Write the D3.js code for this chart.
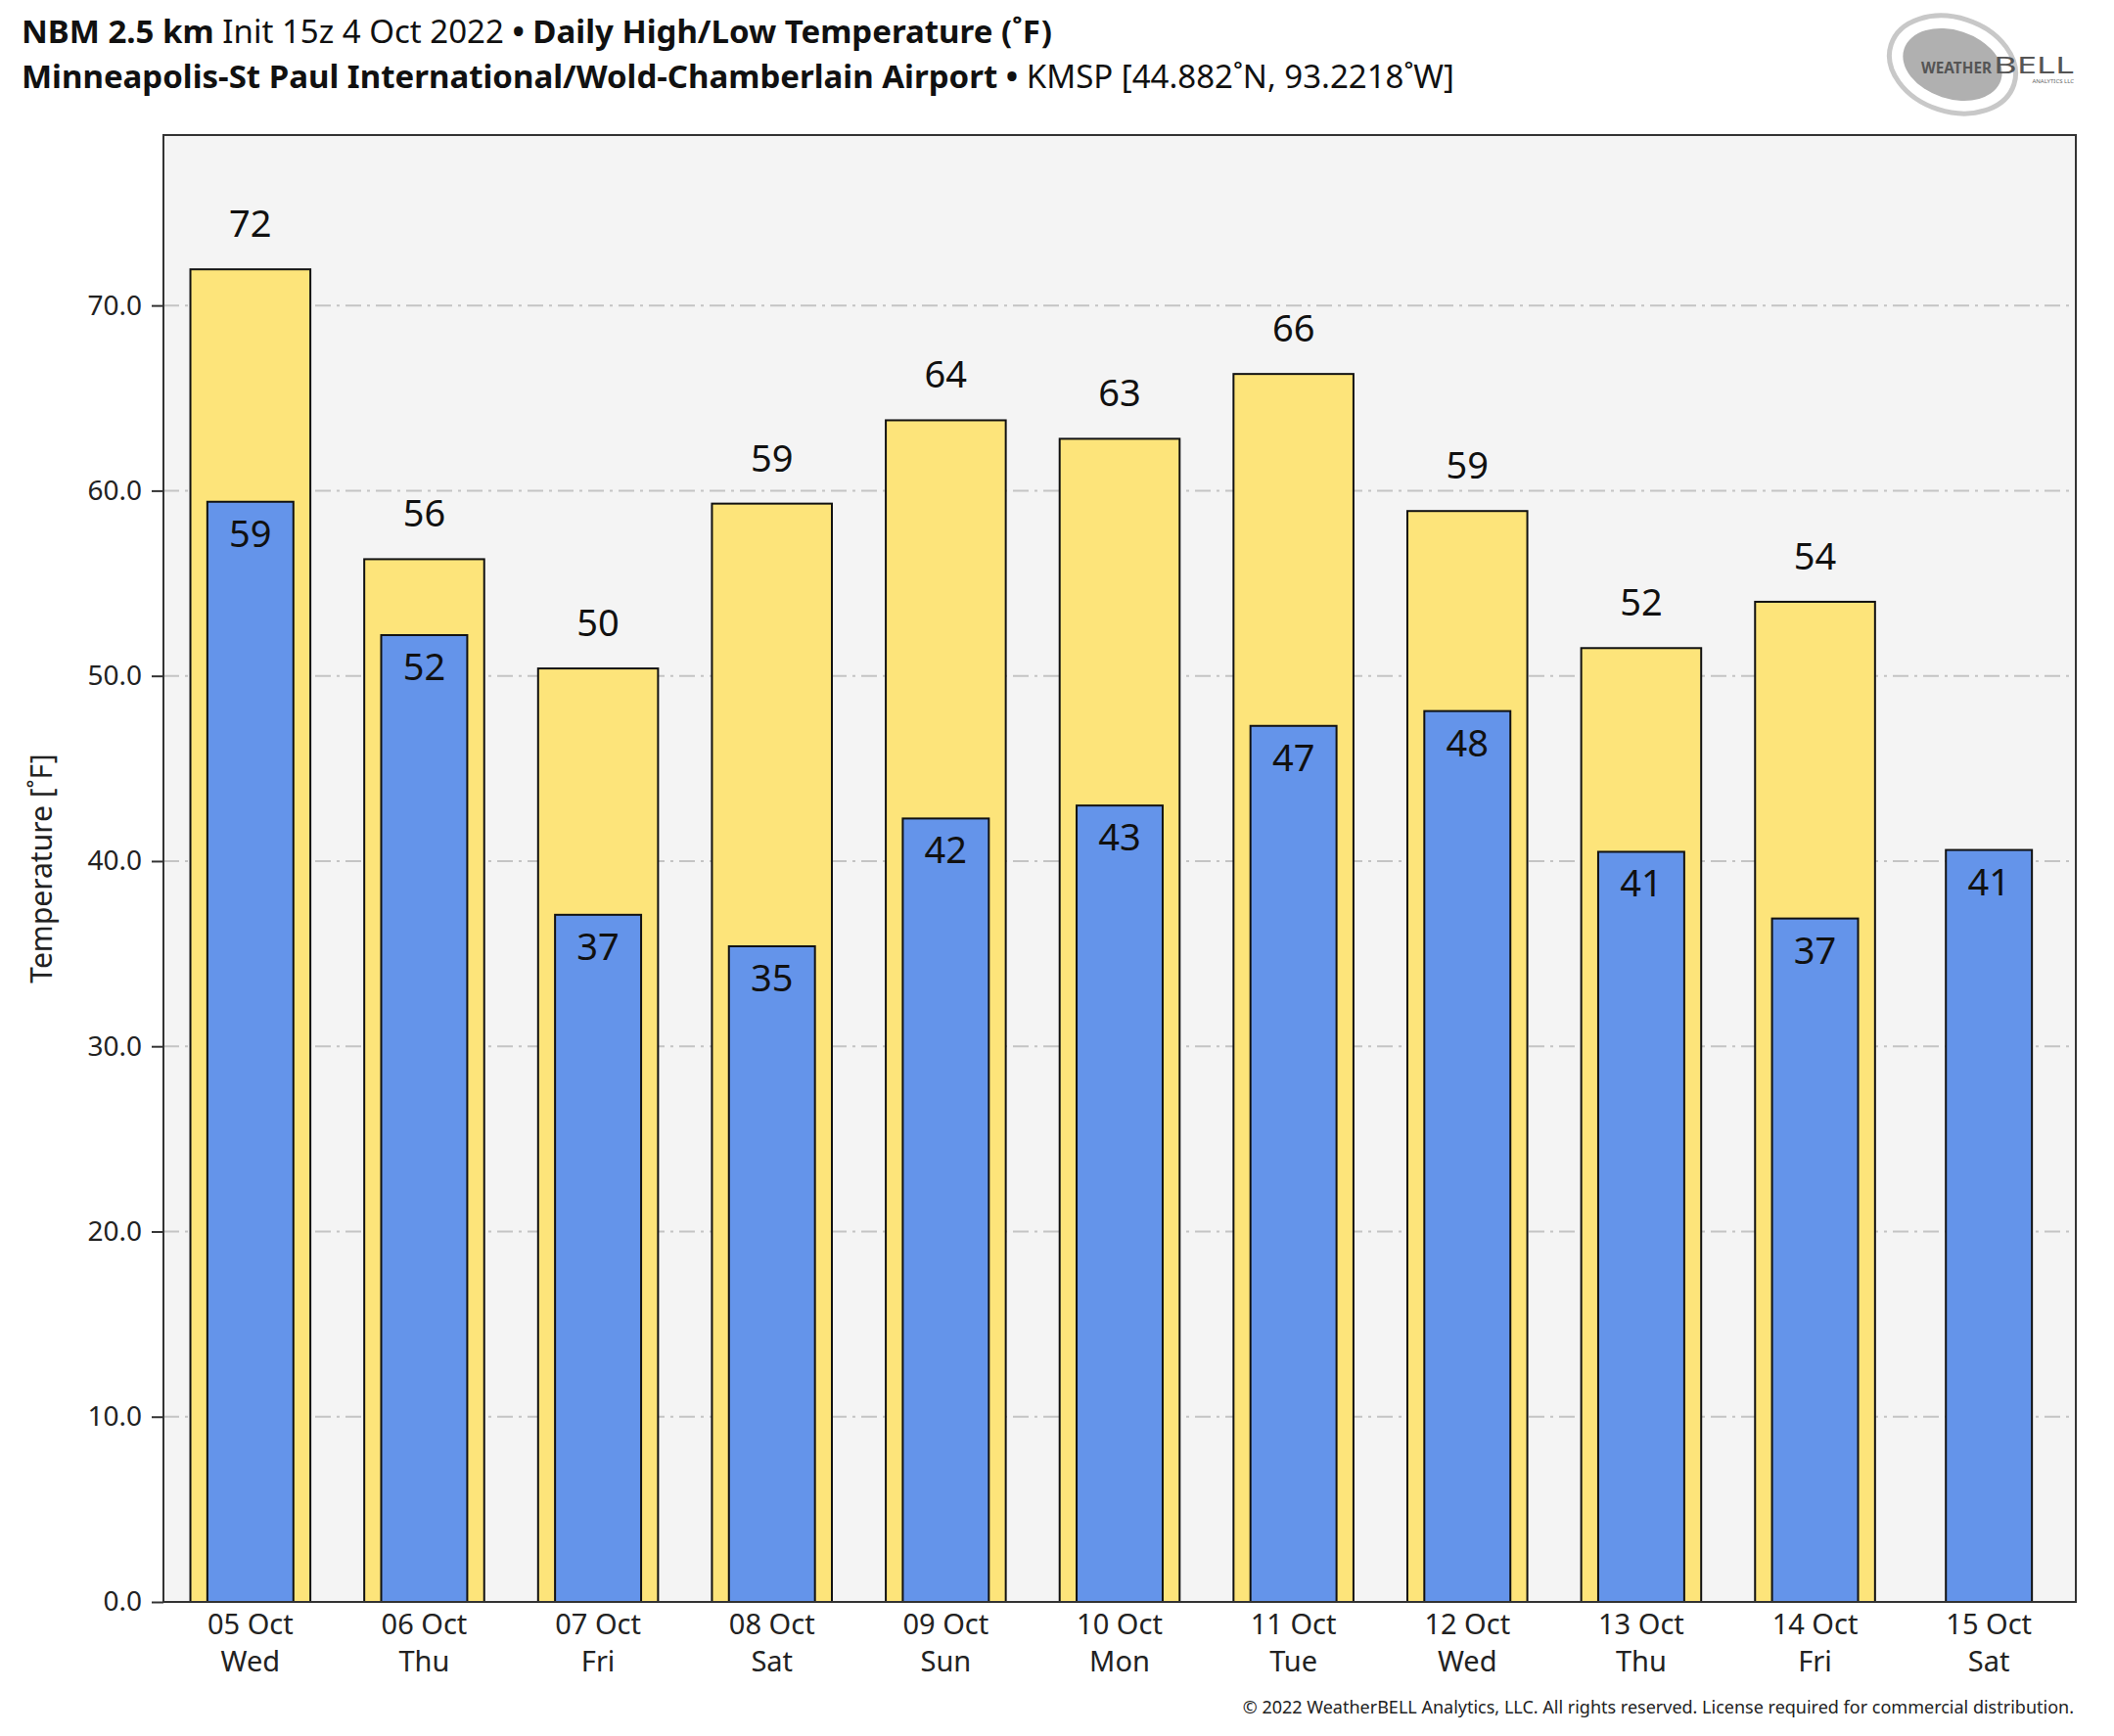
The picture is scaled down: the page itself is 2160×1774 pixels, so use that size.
<!DOCTYPE html>
<html>
<head>
<meta charset="utf-8">
<script src="https://cdn.jsdelivr.net/npm/d3@7"></script>
<style>
  body { margin: 0; background: #fff; }
  text { font-family: "Noto Sans", sans-serif; }
</style>
</head>
<body>
<svg id="canvas" width="2160" height="1774"></svg>
<script>
// days on the x axis
const dates = ["05 Oct", "06 Oct", "07 Oct", "08 Oct", "09 Oct", "10 Oct", "11 Oct", "12 Oct", "13 Oct", "14 Oct", "15 Oct"]
const weekdays = ["Wed", "Thu", "Fri", "Sat", "Sun", "Mon", "Tue", "Wed", "Thu", "Fri", "Sat"]
// daily high / low (F)
const highs = [71.95, 56.3, 50.4, 59.3, 63.8, 62.8, 66.3, 58.9, 51.5, 54.0, null]
const lows = [59.4, 52.2, 37.1, 35.4, 42.3, 43.0, 47.3, 48.1, 40.5, 36.9, 40.6]
const yTicks = [0, 10, 20, 30, 40, 50, 60, 70]

const svg = d3.select("#canvas")
const m = { left: 167, right: 2121, top: 138, bottom: 1637 }

const x = d3.scaleBand()
    .domain(d3.range(dates.length))
    .range([m.left, m.right])
    .padding(0)

const y = d3.scaleLinear()
    .domain([0, 79.2])
    .range([m.bottom, m.top])

// plot background
svg.append("rect")
    .attr("x", m.left).attr("y", m.top)
    .attr("width", m.right - m.left).attr("height", m.bottom - m.top)
    .attr("fill", "#f4f4f4")

// grid, dash-dot
svg.append("g")
    .selectAll("line")
    .data(yTicks.filter(d => d > 0))
    .enter()
    .append("line")
    .attr("x1", m.left).attr("x2", m.right)
    .attr("y1", d => y(d)).attr("y2", d => y(d))
    .attr("stroke", "#c4c4c4")
    .attr("stroke-width", 2)
    .attr("stroke-dasharray", "16,6,3,6")

const highW = x.bandwidth() * 0.69
const lowW = x.bandwidth() * 0.495

// high bars (yellow)
svg.append("g")
    .selectAll("rect")
    .data(highs.map((v, i) => ({ v, i })).filter(d => d.v !== null))
    .enter()
    .append("rect")
    .attr("x", d => x(d.i) + (x.bandwidth() - highW) / 2)
    .attr("y", d => y(d.v))
    .attr("width", highW)
    .attr("height", d => y(0) - y(d.v))
    .attr("fill", "#fde47a")
    .attr("stroke", "#111")
    .attr("stroke-width", 2)

// low bars (blue)
svg.append("g")
    .selectAll("rect")
    .data(lows.map((v, i) => ({ v, i })))
    .enter()
    .append("rect")
    .attr("x", d => x(d.i) + (x.bandwidth() - lowW) / 2)
    .attr("y", d => y(d.v))
    .attr("width", lowW)
    .attr("height", d => y(0) - y(d.v))
    .attr("fill", "#6494ea")
    .attr("stroke", "#111")
    .attr("stroke-width", 2)

// value labels
svg.append("g")
    .selectAll("text")
    .data(highs.map((v, i) => ({ v, i })).filter(d => d.v !== null))
    .enter()
    .append("text")
    .attr("x", d => x(d.i) + x.bandwidth() / 2)
    .attr("y", d => y(d.v) - 33)
    .attr("text-anchor", "middle")
    .attr("font-size", 38)
    .attr("fill", "#111")
    .text(d => Math.round(d.v))

svg.append("g")
    .selectAll("text")
    .data(lows.map((v, i) => ({ v, i })))
    .enter()
    .append("text")
    .attr("x", d => x(d.i) + x.bandwidth() / 2)
    .attr("y", d => y(d.v) + 46)
    .attr("text-anchor", "middle")
    .attr("font-size", 38)
    .attr("fill", "#111")
    .text(d => Math.round(d.v))

// plot frame
svg.append("rect")
    .attr("x", m.left).attr("y", m.top)
    .attr("width", m.right - m.left).attr("height", m.bottom - m.top)
    .attr("fill", "none")
    .attr("stroke", "#333")
    .attr("stroke-width", 2)

// y axis
const yAxis = svg.append("g")
    .attr("transform", `translate(${m.left},0)`)
    .call(d3.axisLeft(y).tickValues(yTicks).tickFormat(d3.format(".1f")).tickSize(12).tickPadding(10))
yAxis.select(".domain").remove()
yAxis.selectAll("line").attr("stroke", "#333").attr("stroke-width", 2)
yAxis.selectAll("text").attr("font-size", 28).attr("fill", "#222").style("font-family", "Noto Sans")

svg.append("text")
    .attr("transform", `translate(53,${(m.top + m.bottom) / 2}) rotate(-90)`)
    .attr("text-anchor", "middle")
    .attr("font-size", 30)
    .attr("fill", "#222")
    .text("Temperature [˚F]")

// x labels, two lines
const xl = svg.append("g")
    .selectAll("text")
    .data(dates)
    .enter()
    .append("text")
    .attr("x", (d, i) => x(i) + x.bandwidth() / 2)
    .attr("text-anchor", "middle")
    .attr("font-size", 29)
    .attr("fill", "#222")
xl.append("tspan").attr("x", (d, i) => x(i) + x.bandwidth() / 2).attr("y", 1670).text(d => d)
xl.append("tspan").attr("x", (d, i) => x(i) + x.bandwidth() / 2).attr("y", 1708).text((d, i) => weekdays[i])

// titles
const t1 = svg.append("text").attr("x", 22).attr("y", 44).attr("font-size", 33).attr("fill", "#111")
t1.append("tspan").attr("font-weight", "bold").text("NBM 2.5 km")
t1.append("tspan").text(" Init 15z 4 Oct 2022 ")
t1.append("tspan").attr("font-weight", "bold").text("• Daily High/Low Temperature (˚F)")

const t2 = svg.append("text").attr("x", 22).attr("y", 90).attr("font-size", 33).attr("fill", "#111")
t2.append("tspan").attr("font-weight", "bold").text("Minneapolis-St Paul International/Wold-Chamberlain Airport •")
t2.append("tspan").text(" KMSP [44.882˚N, 93.2218˚W]")

// copyright
svg.append("text")
    .attr("x", 2119).attr("y", 1751)
    .attr("text-anchor", "end")
    .attr("font-size", 18)
    .attr("fill", "#222")
    .text("© 2022 WeatherBELL Analytics, LLC. All rights reserved. License required for commercial distribution.")

// logo (rough)
const logo = svg.append("g").attr("transform", "translate(1995,66)")
logo.append("ellipse").attr("rx", 66).attr("ry", 48).attr("transform", "rotate(18)")
    .attr("fill", "none").attr("stroke", "#c8c8c8").attr("stroke-width", 5)
logo.append("ellipse").attr("rx", 52).attr("ry", 35).attr("transform", "rotate(18)")
    .attr("fill", "#b0b0b0")
logo.append("text").attr("x", -32).attr("y", 9).attr("font-family", "DejaVu Serif")
    .attr("font-size", 16).attr("font-weight", "bold").attr("fill", "#555")
    .attr("textLength", 72).attr("lengthAdjust", "spacingAndGlyphs").text("WEATHER")
logo.append("text").attr("x", 42).attr("y", 9).attr("font-family", "DejaVu Serif")
    .attr("font-size", 24).attr("fill", "#555")
    .attr("textLength", 82).attr("lengthAdjust", "spacingAndGlyphs").text("BELL")
logo.append("text").attr("x", 124).attr("y", 19).attr("text-anchor", "end").attr("font-family", "DejaVu Serif")
    .attr("font-size", 6).attr("fill", "#666").text("ANALYTICS LLC")
</script>
</body>
</html>
